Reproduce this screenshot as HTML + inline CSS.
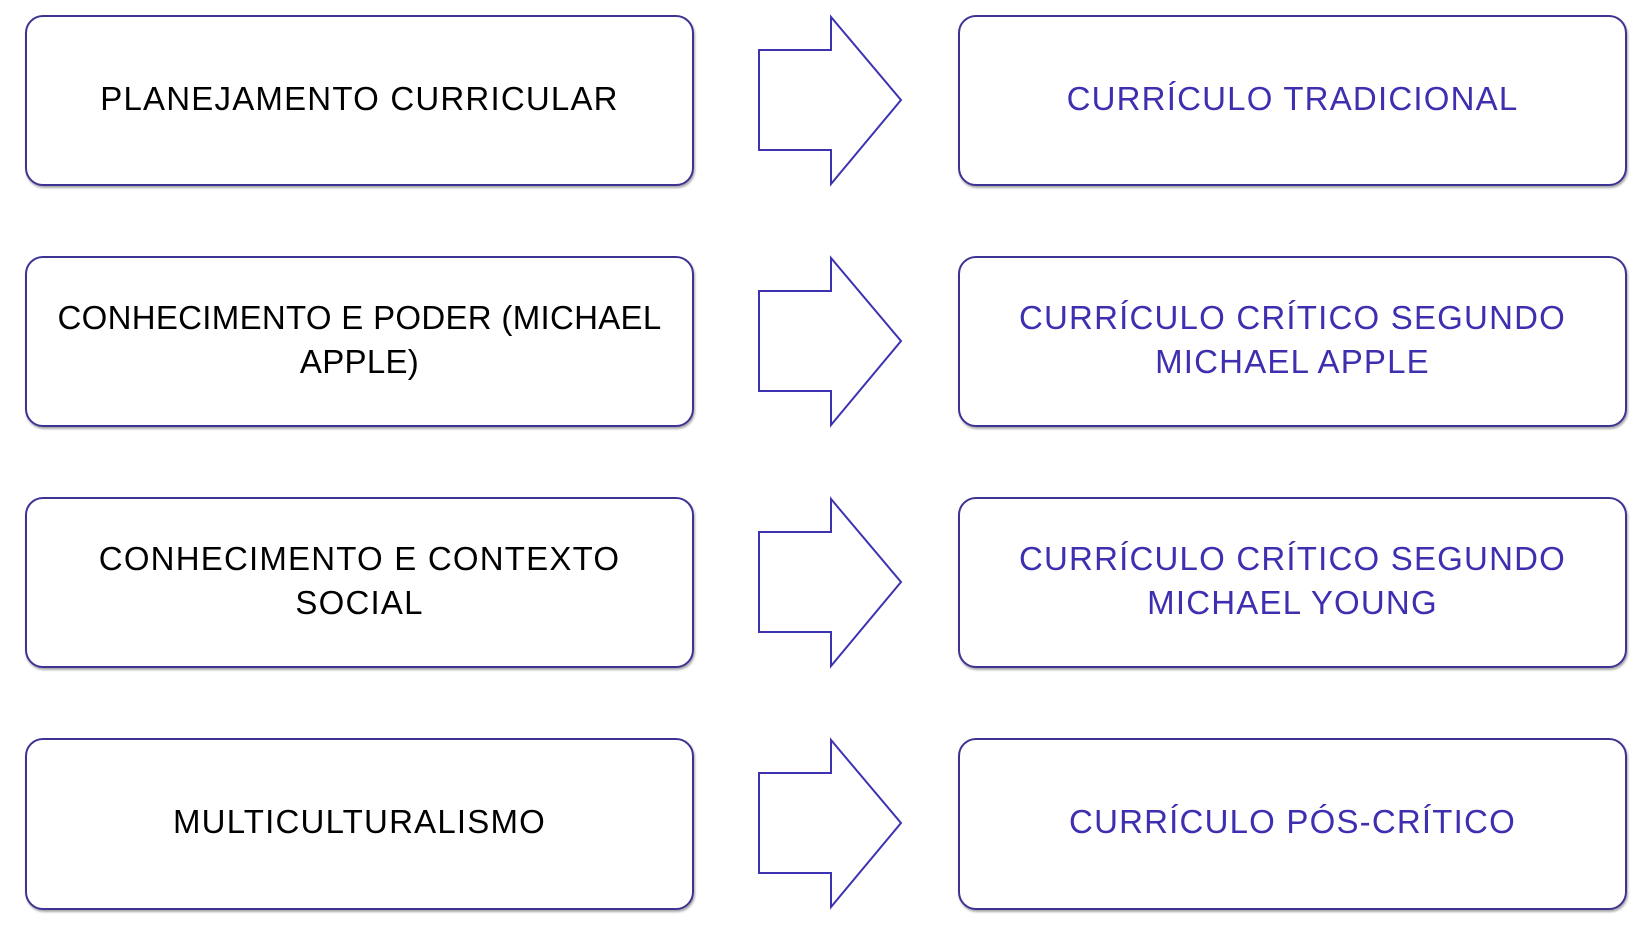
<!DOCTYPE html>
<html><head><meta charset="utf-8"><style>
body{margin:0;width:1649px;height:927px;background:#fff;position:relative;overflow:hidden;font-family:"Liberation Sans",sans-serif}
.b{position:absolute;box-sizing:border-box;border:2px solid #3d3392;border-radius:18px;box-shadow:1px 2px 2px rgba(0,0,0,.35);display:flex;align-items:center;justify-content:center;text-align:center;font-size:33px;line-height:44px;letter-spacing:1.2px;padding-bottom:4px}
.l{left:25px;width:669px;color:#000}
.r{left:958px;width:669px;color:#3d2fb0}
svg{position:absolute;left:0;top:0}
</style></head><body>
<div class="b l" style="top:15px;height:171px">PLANEJAMENTO CURRICULAR</div>
<div class="b l" style="top:256px;height:171px;letter-spacing:0.3px">CONHECIMENTO E PODER (MICHAEL<br>APPLE)</div>
<div class="b l" style="top:497px;height:171px">CONHECIMENTO E CONTEXTO<br>SOCIAL</div>
<div class="b l" style="top:738px;height:172px">MULTICULTURALISMO</div>
<div class="b r" style="top:15px;height:171px">CURRÍCULO TRADICIONAL</div>
<div class="b r" style="top:256px;height:171px">CURRÍCULO CRÍTICO SEGUNDO<br>MICHAEL APPLE</div>
<div class="b r" style="top:497px;height:171px">CURRÍCULO CRÍTICO SEGUNDO<br>MICHAEL YOUNG</div>
<div class="b r" style="top:738px;height:172px">CURRÍCULO PÓS-CRÍTICO</div>
<svg width="1649" height="927" fill="none" stroke="#3d33b0" stroke-width="2">
<g id="a"><polygon points="759,50 831,50 831,17 901,100 831,184 831,150 759,150"/></g>
<use href="#a" y="241"/><use href="#a" y="482"/><use href="#a" y="723"/>
</svg>
</body></html>
